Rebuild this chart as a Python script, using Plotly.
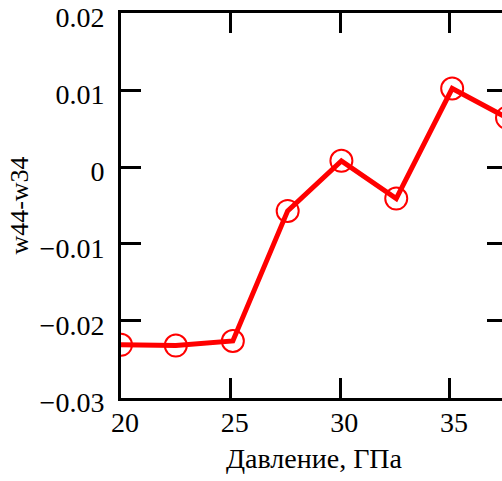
import plotly.graph_objects as go

pressure = [20.0, 22.5, 25.1, 27.6, 30.05, 32.55, 35.1, 37.6]
w44_w34 = [-0.0231, -0.0232, -0.0226, -0.0057, 0.0008, -0.0041, 0.0102, 0.0064]
y_ticks = [-0.03, -0.02, -0.01, 0.0, 0.01, 0.02]
y_tick_labels = ["\u22120.03", "\u22120.02", "\u22120.01", "0", "0.01", "0.02"]
x_ticks = [20, 25, 30, 35]

x_title = "Давление, ГПа"
y_title = "w44-w34"

fig = go.Figure()
fig.add_trace(go.Scatter(
    x=pressure, y=w44_w34, mode="lines+markers",
    line=dict(color="#ff0000", width=5),
    marker=dict(symbol="circle-open", size=22, color="#ff0000", line=dict(width=2, color="#ff0000")),
    showlegend=False,
))

font = "Liberation Serif"
axis_common = dict(
    showgrid=False, zeroline=False, showline=True, linecolor="black", linewidth=3,
    mirror="ticks", ticks="inside", ticklen=20, tickwidth=2.5, tickcolor="black",
    tickfont=dict(family=font, size=28, color="black"), ticklabeloverflow="allow",
    automargin=False,
)
fig.update_xaxes(range=[20, 37.6], tickvals=x_ticks, ticklabelstandoff=-3, ticklabelshift=4,
                 title=dict(text=x_title, font=dict(family=font, size=28, color="black"), standoff=12),
                 **axis_common)
fig.update_yaxes(range=[-0.03001, 0.02001], tickvals=y_ticks, ticktext=y_tick_labels,
                 ticklabelstandoff=8, ticklabelshift=4,
                 title=dict(text=y_title, font=dict(family=font, size=26, color="black"), standoff=4),
                 **axis_common)
fig.update_layout(
    width=507, height=481, autosize=False,
    margin=dict(l=121, r=0, t=13, b=83, autoexpand=False),
    paper_bgcolor="white", plot_bgcolor="white",
    font=dict(family=font, color="black"),
)
fig.write_html("out.html", post_script="document.body.style.overflow='hidden';document.documentElement.style.overflow='hidden';")
